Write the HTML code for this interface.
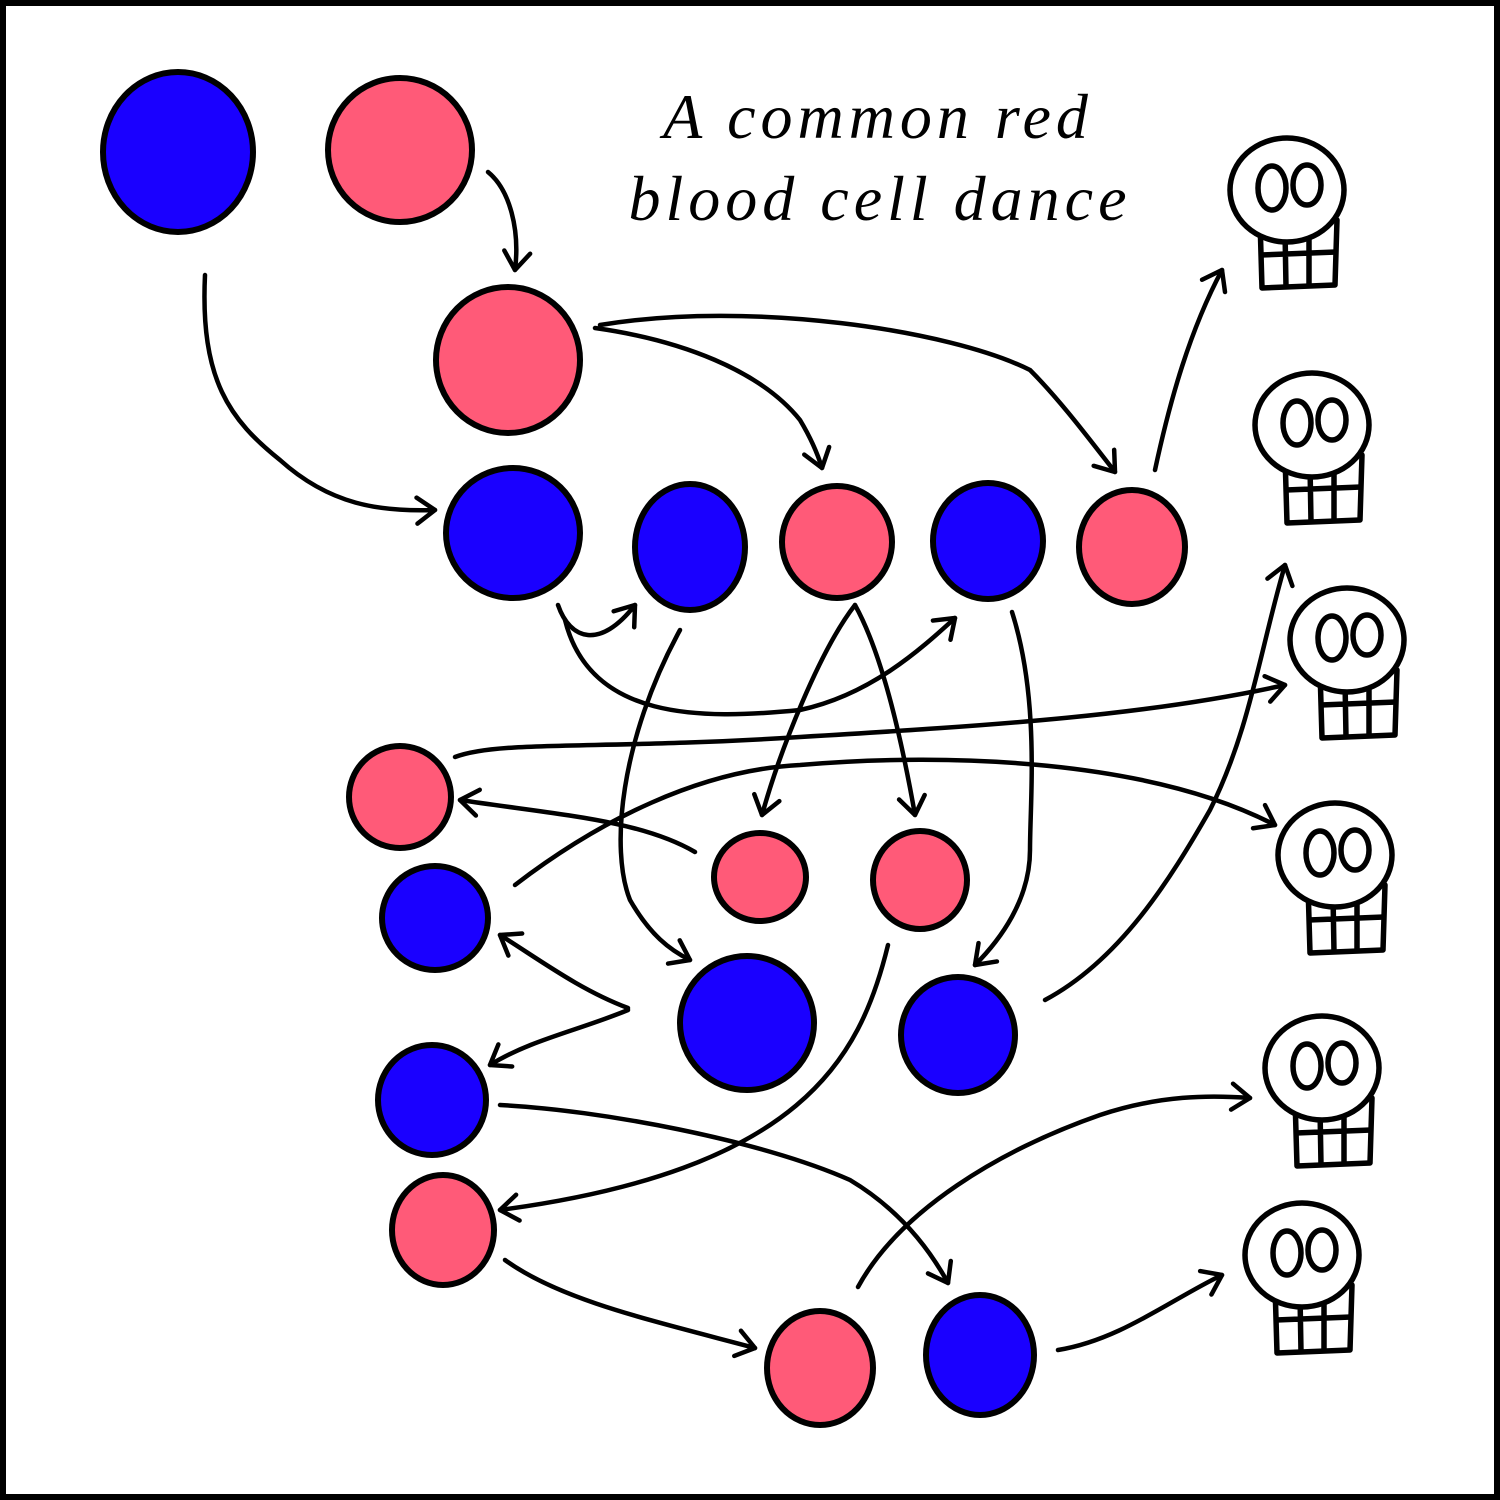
<!DOCTYPE html>
<html><head><style>html,body{margin:0;padding:0;background:#fff}svg{display:block}</style></head>
<body>
<svg width="1500" height="1500" viewBox="0 0 1500 1500" xmlns="http://www.w3.org/2000/svg">
<defs>
<marker id="ah" markerUnits="userSpaceOnUse" markerWidth="40" markerHeight="40" viewBox="-30 -20 40 40" refX="0" refY="0" orient="auto">
<path d="M-18,-13 L0,0 L-18,13" fill="none" stroke="#000" stroke-width="4.5" stroke-linecap="round" stroke-linejoin="round"/>
</marker>
<g id="skull" fill="#fff" stroke="#000" stroke-width="5.5" stroke-linejoin="round">
<path d="M-27,30 L50,30 L48,95 L-25,98 Z"/>
<path d="M-2,40 L-1,97 M22,40 L22,96 M-26,65 L49,62"/>
<ellipse cx="0" cy="0" rx="57" ry="52"/>
<ellipse cx="-15" cy="-2" rx="14" ry="22"/>
<ellipse cx="20" cy="-5" rx="14" ry="20"/>
</g>
</defs>
<rect x="3" y="3" width="1494" height="1494" fill="#fff" stroke="#000" stroke-width="6"/>
<text x="878" y="138" text-anchor="middle" font-family="Liberation Serif, serif" font-style="italic" font-size="64" letter-spacing="5">A common red</text>
<text x="880" y="220" text-anchor="middle" font-family="Liberation Serif, serif" font-style="italic" font-size="64" letter-spacing="5">blood cell dance</text>
<g stroke="#000" stroke-width="6">
<g fill="#1a00ff">
<ellipse cx="178" cy="152" rx="75" ry="80"/>
<ellipse cx="513" cy="533" rx="67" ry="65"/>
<ellipse cx="690" cy="547" rx="55" ry="63"/>
<ellipse cx="988" cy="541" rx="55" ry="58"/>
<ellipse cx="435" cy="918" rx="53" ry="52"/>
<ellipse cx="747" cy="1023" rx="67" ry="67"/>
<ellipse cx="958" cy="1035" rx="57" ry="58"/>
<ellipse cx="432" cy="1100" rx="54" ry="55"/>
<ellipse cx="980" cy="1355" rx="54" ry="60"/>
</g>
<g fill="#ff5a78">
<ellipse cx="400" cy="150" rx="72" ry="72"/>
<ellipse cx="508" cy="360" rx="72" ry="73"/>
<ellipse cx="837" cy="542" rx="55" ry="56"/>
<ellipse cx="1132" cy="547" rx="53" ry="57"/>
<ellipse cx="400" cy="797" rx="51" ry="51"/>
<ellipse cx="760" cy="877" rx="46" ry="44"/>
<ellipse cx="920" cy="880" rx="47" ry="49"/>
<ellipse cx="443" cy="1230" rx="51" ry="55"/>
<ellipse cx="820" cy="1368" rx="53" ry="57"/>
</g>
</g>
<use href="#skull" x="1287" y="190"/>
<use href="#skull" x="1312" y="425"/>
<use href="#skull" x="1347" y="640"/>
<use href="#skull" x="1335" y="855"/>
<use href="#skull" x="1322" y="1068"/>
<use href="#skull" x="1302" y="1255"/>
<g fill="none" stroke="#000" stroke-width="4.5" stroke-linecap="round" marker-end="url(#ah)">
<path d="M488,172 C510,190 520,230 515,270"/>
<path d="M205,275 C200,380 230,420 280,460 C330,505 380,512 435,510"/>
<path d="M595,328 C680,340 760,370 800,420 C812,440 818,455 822,468"/>
<path d="M600,325 C750,300 950,330 1030,370 C1060,400 1090,440 1115,472"/>
<path d="M1155,470 C1170,400 1190,330 1222,270"/>
<path d="M558,605 C570,640 600,650 635,605"/>
<path d="M565,620 C590,720 700,720 800,710 C870,695 920,650 955,618"/>
<path d="M680,630 C620,740 610,850 630,900 C650,935 670,950 690,960"/>
<path d="M855,605 C820,650 780,750 762,815"/>
<path d="M855,605 C880,650 900,730 915,815"/>
<path d="M1012,612 C1040,700 1030,800 1030,850 C1030,900 1000,940 975,965"/>
<path d="M455,757 C500,740 600,750 800,737 C1000,725 1150,715 1285,685"/>
<path d="M695,852 C640,820 560,815 460,800"/>
<path d="M515,885 C600,820 700,770 800,765 C950,752 1150,760 1275,825"/>
<path d="M628,1008 C580,990 540,960 500,935"/>
<path d="M628,1010 C580,1030 530,1040 490,1065"/>
<path d="M1045,1000 C1120,960 1170,880 1210,810 C1250,730 1260,650 1285,565"/>
<path d="M888,945 C860,1060 800,1170 500,1210"/>
<path d="M500,1105 C600,1110 760,1140 850,1180 C900,1210 930,1250 948,1283"/>
<path d="M505,1260 C560,1300 650,1320 755,1348"/>
<path d="M858,1287 C900,1210 1000,1150 1100,1115 C1160,1095 1210,1095 1250,1098"/>
<path d="M1058,1350 C1120,1340 1170,1300 1222,1275"/>
</g>
</svg>
</body></html>
